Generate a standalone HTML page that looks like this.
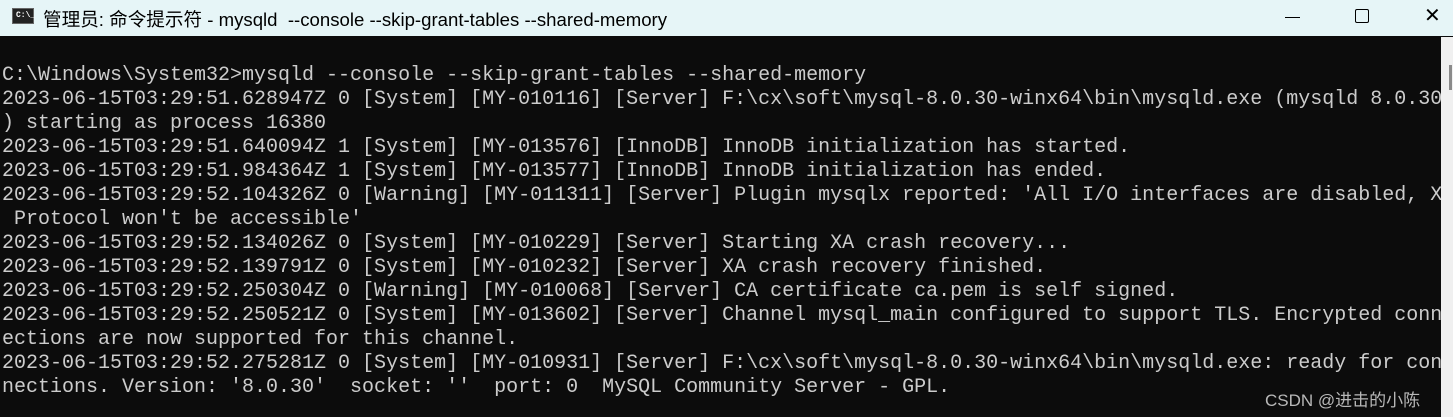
<!DOCTYPE html>
<html><head><meta charset="utf-8"><style>
html,body{margin:0;padding:0;width:1453px;height:417px;overflow:hidden;background:#0c0c0c;position:relative}
#tb{position:absolute;left:0;top:0;width:1453px;height:36px;background:#e6f5f7;font-family:"Liberation Sans","Noto Sans CJK SC",sans-serif;font-size:18.6px;color:#000}
#tb .t{position:absolute;left:43px;top:5px;white-space:pre}
#ic{position:absolute;left:12px;top:8px;width:22px;height:16px;background:#222;border:1px solid #666;box-sizing:border-box}
#ic span{position:absolute;left:3px;top:2px;font:bold 8px "Liberation Mono",monospace;color:#fff}
.btn{position:absolute;top:4px;font-size:20px}
#con{position:absolute;left:2px;top:64px;font-family:"Liberation Mono",monospace;font-size:20px;line-height:24px;color:#cccccc;white-space:pre}
#sb{position:absolute;left:1441px;top:37px;width:12px;height:380px;background:#f0f0f0}
#th{position:absolute;left:1449px;top:65px;width:3px;height:25px;background:#8a8a8a}
#wm{position:absolute;left:1265px;top:386px;font-family:"Liberation Sans","Noto Sans CJK SC",sans-serif;font-size:17px;color:#b8b8b8}
</style></head><body>
<div id="tb"><div id="ic"><span>C:\_</span></div><div class="t">管理员: 命令提示符 - mysqld  --console --skip-grant-tables --shared-memory</div>
<div style="position:absolute;left:1285px;top:17px;width:15px;height:1px;background:#000"></div>
<div style="position:absolute;left:1355px;top:9px;width:12px;height:12px;border:1.5px solid #000;border-radius:2px"></div>
<div class="btn" style="left:1424px;top:3px">✕</div></div>
<div id="con">C:\Windows\System32>mysqld --console --skip-grant-tables --shared-memory
2023-06-15T03:29:51.628947Z 0 [System] [MY-010116] [Server] F:\cx\soft\mysql-8.0.30-winx64\bin\mysqld.exe (mysqld 8.0.30
) starting as process 16380
2023-06-15T03:29:51.640094Z 1 [System] [MY-013576] [InnoDB] InnoDB initialization has started.
2023-06-15T03:29:51.984364Z 1 [System] [MY-013577] [InnoDB] InnoDB initialization has ended.
2023-06-15T03:29:52.104326Z 0 [Warning] [MY-011311] [Server] Plugin mysqlx reported: 'All I/O interfaces are disabled, X
 Protocol won't be accessible'
2023-06-15T03:29:52.134026Z 0 [System] [MY-010229] [Server] Starting XA crash recovery...
2023-06-15T03:29:52.139791Z 0 [System] [MY-010232] [Server] XA crash recovery finished.
2023-06-15T03:29:52.250304Z 0 [Warning] [MY-010068] [Server] CA certificate ca.pem is self signed.
2023-06-15T03:29:52.250521Z 0 [System] [MY-013602] [Server] Channel mysql_main configured to support TLS. Encrypted conn
ections are now supported for this channel.
2023-06-15T03:29:52.275281Z 0 [System] [MY-010931] [Server] F:\cx\soft\mysql-8.0.30-winx64\bin\mysqld.exe: ready for con
nections. Version: '8.0.30'  socket: ''  port: 0  MySQL Community Server - GPL.</div>
<div id="sb"></div><div id="th"></div>
<div id="wm">CSDN @进击的小陈</div>
</body></html>
